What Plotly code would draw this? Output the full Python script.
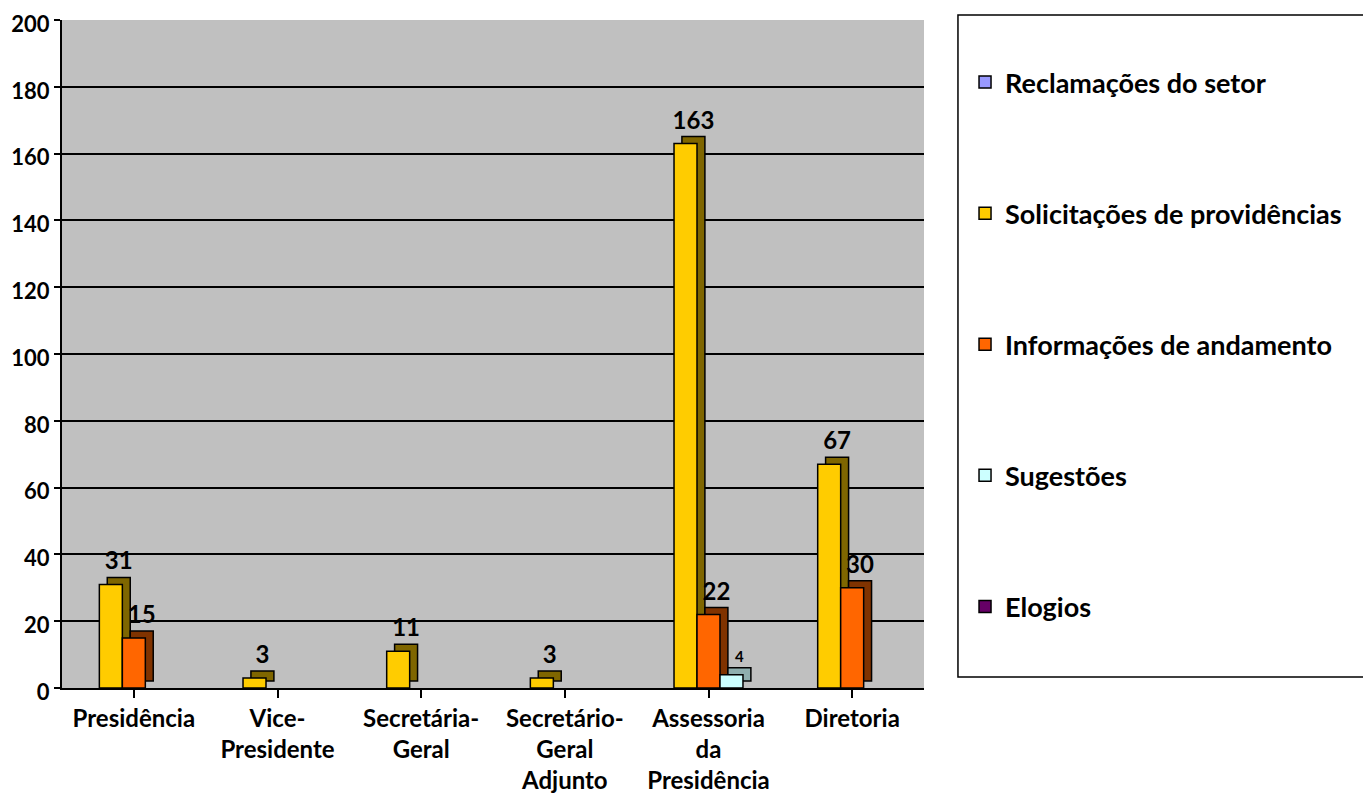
import plotly.graph_objects as go

categories = ["Presidência", "Vice-<br>Presidente", "Secretária-<br>Geral",
              "Secretário-<br>Geral<br>Adjunto", "Assessoria<br>da<br>Presidência", "Diretoria"]
series_names = ["Reclamações do setor", "Solicitações de providências",
                "Informações de andamento", "Sugestões", "Elogios"]
reclamacoes = [None, None, None, None, None, None]
solicitacoes = [31, 3, 11, 3, 163, 67]
informacoes = [15, None, None, None, 22, 30]
sugestoes = [None, None, None, None, 4, None]
elogios = [None, None, None, None, None, None]
series_values = [reclamacoes, solicitacoes, informacoes, sugestoes, elogios]
y_ticks = [0, 20, 40, 60, 80, 100, 120, 140, 160, 180, 200]

front_colors = ["#9999FF", "#FFCC00", "#FF6600", "#CCFFFF", "#660066"]
side_colors = ["#4C4C80", "#7F6600", "#803300", "#8FAFAF", "#330033"]
label_sizes = [24, 24, 24, 15, 24]

FONT = "Lato, Carlito, 'Open Sans', sans-serif"
x_idx = list(range(len(categories)))
bar_w = 0.16
start = -0.4
dx = 0.055
dy = 2.1

fig = go.Figure()

# depth (3D side) layers
for i, (name, vals) in enumerate(zip(series_names, series_values)):
    fig.add_trace(go.Bar(
        x=x_idx, y=vals, base=dy, offset=start + bar_w * i + dx, width=bar_w,
        marker=dict(color=side_colors[i], line=dict(color="black", width=1.5)),
        text=[str(v) if v is not None else "" for v in vals],
        textposition="outside", constraintext="none", cliponaxis=False,
        textfont=dict(family=FONT, size=label_sizes[i], color="black", weight="bold"),
        showlegend=False, hoverinfo="skip", name=name + " depth",
    ))

# front faces
for i, (name, vals) in enumerate(zip(series_names, series_values)):
    fig.add_trace(go.Bar(
        x=x_idx, y=vals, offset=start + bar_w * i, width=bar_w,
        marker=dict(color=front_colors[i], line=dict(color="black", width=1.5)),
        name=name, legendgroup=name, showlegend=True,
    ))

fig.update_layout(
    width=1363, height=801,
    margin=dict(l=54, r=447, t=12, b=121, autoexpand=False),
    barmode="overlay",
    plot_bgcolor="#C0C0C0",
    paper_bgcolor="white",
    font=dict(family=FONT, size=20, color="black"),
    showlegend=True,
    legend=dict(
        x=1.0476, xanchor="left", y=0.9431, yanchor="top",
        font=dict(family=FONT, size=27, color="black", weight="bold"),
        tracegroupgap=93, traceorder="grouped",
        bgcolor="rgba(0,0,0,0)", borderwidth=0, itemwidth=30,
    ),
    shapes=[dict(type="rect", xref="paper", yref="paper",
                 x0=1.0394, x1=1.5116, y0=0.0165, y1=1.0075,
                 line=dict(color="black", width=1.5), fillcolor="rgba(0,0,0,0)")],
)

fig.update_xaxes(
    tickmode="array", tickvals=x_idx,
    ticktext=["<b>" + c.replace("<br>", "</b><br><b>") + "</b>" for c in categories],
    range=[-0.5, 5.5], showgrid=False, zeroline=False, automargin=False,
    showline=True, linecolor="black", linewidth=2,
    ticks="outside", ticklen=8, tickwidth=2, tickcolor="black",
    tickson="boundaries",
    tickfont=dict(family=FONT, size=24, color="black"),
)
fig.update_yaxes(
    range=[0, 200], tickmode="array", tickvals=y_ticks,
    ticktext=[str(t) for t in y_ticks], automargin=False,
    ticklabeloverflow="allow", ticklabelshift=4,
    showgrid=True, gridcolor="black", gridwidth=2,
    zeroline=False, showline=True, linecolor="black", linewidth=2,
    ticks="outside", ticklen=6, tickwidth=2, tickcolor="black",
    tickfont=dict(family=FONT, size=22, color="black", weight="bold"),
)

fig.write_html("out.html")
